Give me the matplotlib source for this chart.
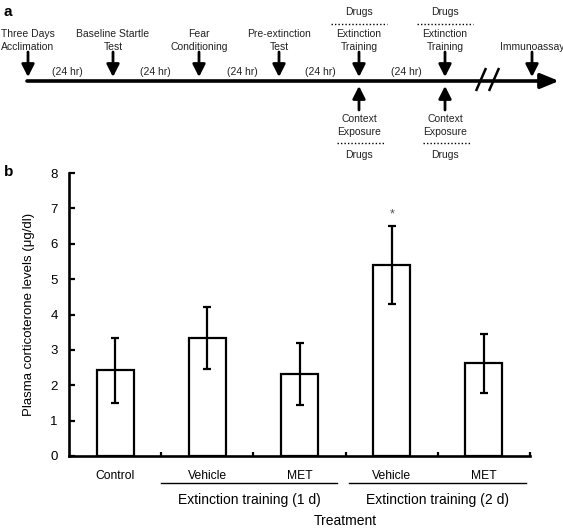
import matplotlib.pyplot as plt

plt.rcParams["font.family"] = ["Liberation Sans", "DejaVu Sans"]

# panel b data
categories = ["Control", "Vehicle", "MET", "Vehicle", "MET"]
means = [2.42, 3.33, 2.32, 5.40, 2.62]
errors = [0.92, 0.88, 0.87, 1.11, 0.83]
groups = ["Extinction training (1 d)", "Extinction training (2 d)"]
group_spans = [(0.5, 2.41), (2.54, 4.46)]
significant = [False, False, False, True, False]

# panel a timeline
events = ["Three Days\nAcclimation", "Baseline Startle\nTest", "Fear\nConditioning",
          "Pre-extinction\nTest", "Extinction\nTraining", "Extinction\nTraining", "Immunoassay"]
event_x = [28, 113, 199, 279, 359, 445, 532]
gaps = ["(24 hr)", "(24 hr)", "(24 hr)", "(24 hr)", "(24 hr)"]
gap_x = [67, 155, 242, 320, 406]
exposure_x = [359, 445]

W, H = 563, 529
fig = plt.figure(figsize=(W / 100, H / 100), dpi=100)

# overlay in pixel coordinates for the diagram and panel letters
ov = fig.add_axes([0, 0, 1, 1])
ov.set_xlim(0, W)
ov.set_ylim(H, 0)
ov.axis("off")

ov.text(4, 12, "a", fontsize=11, fontweight="bold", va="center", ha="left")
ov.text(4, 172, "b", fontsize=11, fontweight="bold", va="center", ha="left")

TL_Y = 81
ov.annotate("", xy=(559, TL_Y), xytext=(27, TL_Y),
            arrowprops=dict(arrowstyle="-|>,head_length=1.1,head_width=0.45",
                            lw=2.6, color="black", shrinkA=0, shrinkB=0))
for xb in (476, 489):
    ov.plot([xb, xb + 10], [91, 68], color="black", lw=1.8, solid_capstyle="butt")

down_arrow = dict(arrowstyle="-|>,head_length=0.75,head_width=0.38",
                  lw=2.0, color="black", shrinkA=0, shrinkB=0)
fs_a = 7.5
for label, x in zip(events, event_x):
    ov.annotate("", xy=(x, 77), xytext=(x, 52), arrowprops=down_arrow)
    ov.text(x, 52, label, fontsize=fs_a, ha="center", va="bottom", linespacing=1.35,
            color="#222222")

for label, x in zip(gaps, gap_x):
    ov.text(x, 72, label, fontsize=fs_a, ha="center", va="center", color="#222222")

for x in exposure_x:
    ov.text(x, 12, "Drugs", fontsize=fs_a, ha="center", va="center", color="#222222")
    ov.plot([x - 28, x + 28], [24, 24], color="black", lw=1.0, ls=(0, (1, 1.5)))
    ov.annotate("", xy=(x, 86), xytext=(x, 110), arrowprops=down_arrow)
    ov.text(x, 114, "Context\nExposure", fontsize=fs_a, ha="center", va="top",
            linespacing=1.35, color="#222222")
    ov.plot([x - 22, x + 26], [143, 143], color="black", lw=1.0, ls=(0, (1, 1.5)))
    ov.text(x, 155, "Drugs", fontsize=fs_a, ha="center", va="center", color="#222222")

# panel b
ax = fig.add_axes([69 / W, 1 - 456 / H, (530 - 69) / W, (456 - 173) / H])
x = list(range(len(categories)))
ax.bar(x, means, width=0.4, color="white", edgecolor="black", linewidth=1.6, zorder=2)
ax.errorbar(x, means, yerr=errors, fmt="none", ecolor="black", elinewidth=1.6,
            capsize=2.8, capthick=1.6, zorder=3)
for xi, m, e, s in zip(x, means, errors, significant):
    if s:
        ax.text(xi, m + e + 0.33, "*", ha="center", va="center", fontsize=9, color="#555555")

ax.set_xlim(-0.5, len(categories) - 0.5)
ax.set_ylim(0, 8)
ax.set_yticks(range(0, 9))
ax.set_xticks(x)
ax.set_xticklabels(categories, fontsize=8.7)
ax.set_xticks([i + 0.5 for i in x], minor=True)
ax.tick_params(axis="x", which="major", length=0, pad=10)
ax.tick_params(axis="x", which="minor", direction="in", length=3, width=1.6)
ax.tick_params(axis="y", direction="in", length=4.5, width=1.6, labelsize=9.5, pad=8)

for spine in ("top", "right"):
    ax.spines[spine].set_visible(False)
for spine in ("left", "bottom"):
    ax.spines[spine].set_linewidth(1.9)

ax.set_ylabel("Plasma corticoterone levels (\u03bcg/dl)", fontsize=9.5, labelpad=11)

trans = ax.get_xaxis_transform()
for name, (x0, x1) in zip(groups, group_spans):
    ax.plot([x0, x1], [-0.095, -0.095], color="black", lw=1.0, transform=trans, clip_on=False)
    ax.text((x0 + x1) / 2, -0.155, name, fontsize=10, ha="center", va="center",
            transform=trans)
ax.text(2.5, -0.23, "Treatment", fontsize=10, ha="center", va="center",
        transform=trans)

fig.savefig("out.png", dpi=100, facecolor="white")
